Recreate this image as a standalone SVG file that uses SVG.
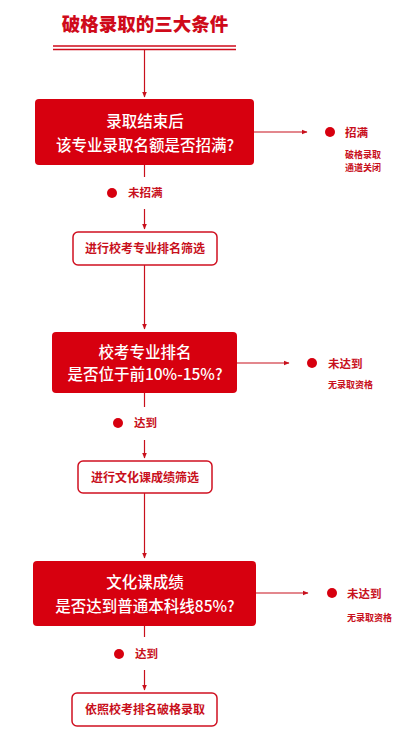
<svg xmlns="http://www.w3.org/2000/svg" width="400" height="738" viewBox="0 0 400 738">
<defs>
<marker id="ah" viewBox="0 0 6 6" refX="5.5" refY="3" markerWidth="6" markerHeight="6" markerUnits="userSpaceOnUse" orient="auto">
<path d="M0,0.5 L6,3 L0,5.5 Z" fill="#c8101c"/>
</marker>
</defs>
<style>
text{font-family:"Noto Sans CJK SC","Noto Sans CJK JP",sans-serif;}
.title{font-size:18.5px;font-weight:900;fill:#cf0a1a;}
.bt{font-size:15.5px;fill:#fff;font-weight:500;text-anchor:middle;}
.dec{fill:#d7000f;}
.ob{fill:#fff;stroke:#d01020;stroke-width:1.5;}
.ot{font-size:12px;font-weight:bold;fill:#c8101c;text-anchor:middle;}
.lbl{font-size:11.5px;font-weight:bold;fill:#c8101c;}
.sm{font-size:9px;font-weight:bold;fill:#c8101c;}
.dot{fill:#d7000f;}
.ln{stroke:#c8101c;stroke-width:1.2;fill:none;}
</style>
<g id="title">
<text class="title" x="145" y="31" text-anchor="middle">破格录取的三大条件</text>
<line x1="53" y1="46" x2="236" y2="46" stroke="#cf0a1a" stroke-width="1.5"/>
<line x1="53" y1="49.5" x2="236" y2="49.5" stroke="#cf0a1a" stroke-width="1.5"/>
</g>
<g id="connectors">
<line class="ln" x1="144.5" y1="50" x2="144.5" y2="97" marker-end="url(#ah)"/>
<line class="ln" x1="254" y1="132" x2="307" y2="132" marker-end="url(#ah)"/>
<line class="ln" x1="144.5" y1="165" x2="144.5" y2="177"/>
<line class="ln" x1="144.5" y1="209" x2="144.5" y2="229" marker-end="url(#ah)"/>
<line class="ln" x1="144.5" y1="265" x2="144.5" y2="329" marker-end="url(#ah)"/>
<line class="ln" x1="237" y1="363" x2="289" y2="363" marker-end="url(#ah)"/>
<line class="ln" x1="144.5" y1="393" x2="144.5" y2="407"/>
<line class="ln" x1="144.5" y1="440" x2="144.5" y2="458" marker-end="url(#ah)"/>
<line class="ln" x1="144.5" y1="493" x2="144.5" y2="558" marker-end="url(#ah)"/>
<line class="ln" x1="256" y1="593" x2="308" y2="593" marker-end="url(#ah)"/>
<line class="ln" x1="144.5" y1="626" x2="144.5" y2="637"/>
<line class="ln" x1="144.5" y1="670" x2="144.5" y2="690" marker-end="url(#ah)"/>
</g>
<g id="n1">
<rect class="dec" x="35" y="99" width="219" height="66" rx="4"/>
<text class="bt" x="145" y="127">录取结束后</text>
<text class="bt" x="145" y="151">该专业录取名额是否招满?</text>
</g>
<g id="n1-full">
<circle class="dot" cx="330" cy="132" r="5"/>
<text class="lbl" x="345" y="137">招满</text>
<text class="sm" x="345" y="158">破格录取</text>
<text class="sm" x="345" y="171">通道关闭</text>
</g>
<g id="n1-notfull">
<circle class="dot" cx="112" cy="193" r="5"/>
<text class="lbl" x="128" y="197">未招满</text>
</g>
<g id="n2">
<rect class="ob" x="73" y="232" width="144" height="33" rx="5"/>
<text class="ot" x="145" y="253">进行校考专业排名筛选</text>
</g>
<g id="n3">
<rect class="dec" x="52" y="332" width="185" height="61" rx="4"/>
<text class="bt" x="145" y="358">校考专业排名</text>
<text class="bt" x="145" y="380">是否位于前10%-15%?</text>
</g>
<g id="n3-fail">
<circle class="dot" cx="312" cy="363" r="5"/>
<text class="lbl" x="328" y="368">未达到</text>
<text class="sm" x="328" y="388">无录取资格</text>
</g>
<g id="n3-pass">
<circle class="dot" cx="118" cy="423" r="5"/>
<text class="lbl" x="134" y="427">达到</text>
</g>
<g id="n4">
<rect class="ob" x="78" y="461" width="134" height="32" rx="5"/>
<text class="ot" x="145" y="482">进行文化课成绩筛选</text>
</g>
<g id="n5">
<rect class="dec" x="33" y="561" width="223" height="65" rx="4"/>
<text class="bt" x="145" y="588">文化课成绩</text>
<text class="bt" x="145" y="612">是否达到普通本科线85%?</text>
</g>
<g id="n5-fail">
<circle class="dot" cx="332" cy="593" r="5"/>
<text class="lbl" x="347" y="598">未达到</text>
<text class="sm" x="347" y="621">无录取资格</text>
</g>
<g id="n5-pass">
<circle class="dot" cx="119" cy="654" r="5"/>
<text class="lbl" x="135" y="658">达到</text>
</g>
<g id="n6">
<rect class="ob" x="72" y="693" width="145" height="33" rx="5"/>
<text class="ot" x="145" y="714">依照校考排名破格录取</text>
</g>
</svg>
